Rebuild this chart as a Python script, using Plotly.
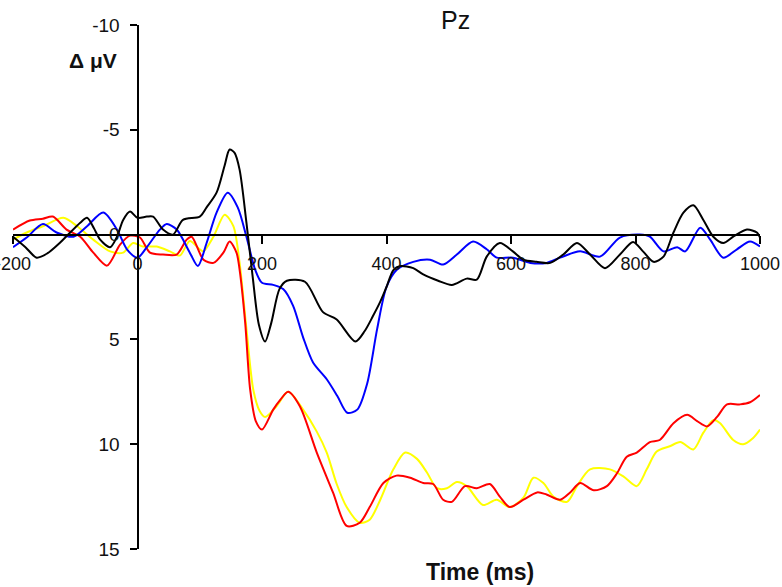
import plotly.graph_objects as go

# ---- data (time in ms, amplitude in microvolts) ----
black_t = [-200, -180, -162, -145, -125, -92, -81, -70, -60, -44, -33, -23, -12, 0, 15, 25, 41, 57, 73, 100,
           111, 127, 140, 148, 156, 164, 175, 185, 195, 205, 215, 228, 240, 269, 298, 320, 350, 365, 378, 390,
           400, 411, 422, 443, 459, 483, 505, 529, 545, 561, 582, 603, 620, 641, 663, 684, 706, 727, 751, 775,
           796, 812, 829, 845, 861, 877, 893, 909, 925, 941, 957, 979, 995, 1000]
black_v = [0.1, 0.6, 1.1, 0.9, 0.4, -0.57, -0.8, -0.3, 0.24, 0.6, 0.1, -0.7, -1.1, -0.8, -0.86, -0.86, -0.24, 0.0, -0.7, -0.86,
           -1.3, -2.0, -3.3, -4.06, -3.9, -3.1, -0.57, 2.0, 4.3, 5.1, 4.2, 2.6, 2.2, 2.25, 3.7, 4.05, 5.1, 4.6, 3.9, 3.2,
           2.5, 1.7, 1.5, 1.6, 1.9, 2.2, 2.4, 2.1, 2.15, 1.05, 0.4, 0.8, 1.2, 1.3, 1.35, 0.95, 0.4, 0.95, 1.6, 0.95,
           0.35, 0.8, 1.3, 1.05, -0.1, -1.05, -1.4, -0.7, 0.1, 0.4, 0.1, -0.24, -0.1, 0.14]

blue_t = [-200, -178, -152, -130, -103, -81, -55, -33, -17, 0, 15, 36, 47, 63, 84, 97, 111, 127, 145, 161,
          175, 189, 200, 218, 234, 250, 266, 282, 304, 321, 337, 353, 369, 385, 400, 417, 443, 470, 491, 513,
          539, 561, 577, 603, 631, 657, 679, 711, 743, 775, 807, 823, 845, 867, 880, 904, 920, 941, 963, 984, 1000]
blue_v = [0.6, 0.14, -0.5, -0.1, 0.1, -0.4, -1.05, -0.24, 0.7, 1.1, 0.6, -0.24, -0.5, -0.24, 0.86, 1.5, 0.4, -1.05, -2.0, -1.3,
          0.1, 1.67, 2.3, 2.4, 2.6, 3.4, 4.9, 6.1, 6.9, 7.7, 8.5, 8.35, 7.1, 4.5, 2.5, 1.67, 1.3, 1.2, 1.43, 0.95,
          0.33, 0.7, 1.1, 1.1, 1.35, 1.35, 1.1, 0.8, 1.05, 0.14, 0.0, 0.1, 0.8, 0.6, 0.8, -0.33, 0.24, 1.1, 0.7, 0.33, 0.57]

red_t = [-200, -173, -152, -136, -114, -92, -71, -49, -28, -12, 4, 20, 41, 63, 79, 87, 106, 122, 138, 148,
         159, 164, 173, 181, 190, 200, 218, 229, 242, 261, 288, 314, 336, 357, 373, 395, 416, 438, 459, 475,
         491, 505, 526, 545, 566, 582, 598, 620, 642, 657, 679, 695, 711, 733, 754, 770, 786, 802, 823, 839,
         861, 883, 899, 915, 931, 947, 968, 984, 1000]
red_v = [-0.24, -0.67, -0.76, -0.86, -0.24, 0.1, 0.86, 1.48, 0.48, 0.05, 0.14, 0.86, 0.95, 0.95, 0.24, 0.1, 1.2, 1.35, 0.86, 0.33,
         0.86, 1.67, 4.2, 7.4, 8.9, 9.3, 8.35, 7.9, 7.5, 8.2, 10.4, 12.3, 13.9, 13.75, 13.0, 11.85, 11.5, 11.6, 11.85, 11.9,
         12.65, 12.75, 12.0, 12.1, 11.9, 12.5, 13.0, 12.65, 12.3, 12.4, 12.65, 12.3, 11.85, 12.2, 12.0, 11.4, 10.6, 10.4, 9.9, 9.8,
         9.0, 8.6, 8.9, 9.15, 8.7, 8.1, 8.1, 8.0, 7.65]

yellow_t = [-200, -178, -152, -119, -97, -71, -44, -23, -7, 9, 31, 52, 68, 84, 100, 106, 122, 140, 154, 164,
            175, 186, 196, 205, 223, 242, 266, 288, 304, 320, 336, 357, 373, 390, 411, 430, 449, 465, 481, 497,
            513, 529, 555, 577, 598, 620, 636, 652, 668, 690, 706, 727, 759, 781, 802, 818, 834, 855, 872, 893,
            909, 925, 936, 957, 973, 989, 1000]
yellow_v = [0.24, -0.1, -0.4, -0.8, -0.4, 0.24, 0.8, 0.86, 0.4, 0.57, 0.57, 0.8, 1.0, 0.3, 0.7, 0.8, 0.1, -0.95, -0.4, 1.35,
            4.5, 7.4, 8.4, 8.7, 8.2, 7.5, 8.35, 9.4, 10.4, 11.9, 13.0, 13.75, 13.6, 12.65, 11.2, 10.4, 10.7, 11.35, 12.1, 12.1,
            11.8, 12.0, 12.9, 12.65, 13.0, 12.55, 11.6, 11.85, 12.5, 12.75, 12.0, 11.2, 11.2, 11.55, 12.0, 11.2, 10.35, 10.1, 9.9, 10.25,
            9.45, 8.85, 9.0, 9.8, 10.0, 9.7, 9.3]

x_ticks = [-200, 0, 200, 400, 600, 800, 1000]
y_ticks = [-10, -5, 0, 5, 10, 15]

FONT = "Liberation Sans, Arial, sans-serif"
TXT = "#111111"

fig = go.Figure()
for t, v, c in [(yellow_t, yellow_v, "#ffff00"), (red_t, red_v, "#ff0000"),
                (blue_t, blue_v, "#0000ff"), (black_t, black_v, "#000000")]:
    fig.add_trace(go.Scatter(x=t, y=v, mode="lines",
                             line=dict(color=c, width=2, shape="spline", smoothing=0.8),
                             showlegend=False, hoverinfo="skip"))

x_min, x_max = -200, 1000
y_top, y_bot = -10, 15

fig.update_layout(
    width=782, height=587,
    margin=dict(l=13, r=22, t=25, b=38),
    paper_bgcolor="white", plot_bgcolor="white",
    font=dict(family=FONT, color=TXT, size=18),
    xaxis=dict(range=[x_min, x_max], domain=[0, 1], anchor="free",
               position=(y_bot - 0) / (y_bot - y_top),
               showline=True, linecolor="black", linewidth=2,
               ticks="outside", ticklen=8, tickwidth=2, tickcolor="black",
               tickvals=x_ticks, ticktext=[str(v) for v in x_ticks],
               ticklabelstandoff=5, ticklabeloverflow="allow",
               showgrid=False, zeroline=False, automargin=False,
               tickfont=dict(size=18, family=FONT, color=TXT)),
    yaxis=dict(range=[y_bot, y_top], domain=[0, 1], anchor="free",
               position=(0 - x_min) / (x_max - x_min),
               showline=True, linecolor="black", linewidth=2,
               ticks="outside", ticklen=7, tickwidth=2, tickcolor="black",
               tickvals=y_ticks, ticktext=[str(v) for v in y_ticks],
               ticklabelstandoff=6,
               showgrid=False, zeroline=False, automargin=False,
               tickfont=dict(size=19, family=FONT, color=TXT)),
    annotations=[
        dict(text="Pz", xref="paper", yref="paper", x=0.593, y=1.0095,
             xanchor="center", yanchor="middle", showarrow=False,
             font=dict(size=25, family=FONT, color=TXT)),
        dict(text="<b>Δ μV</b>", xref="paper", yref="paper", x=0.107, y=0.933,
             xanchor="center", yanchor="middle", showarrow=False,
             font=dict(size=21, family=FONT, color=TXT)),
        dict(text="<b>Time (ms)</b>", xref="paper", yref="paper", x=0.625, y=-0.044,
             xanchor="center", yanchor="middle", showarrow=False,
             font=dict(size=23, family=FONT, color=TXT)),
    ],
)

fig.write_html("out.html")
